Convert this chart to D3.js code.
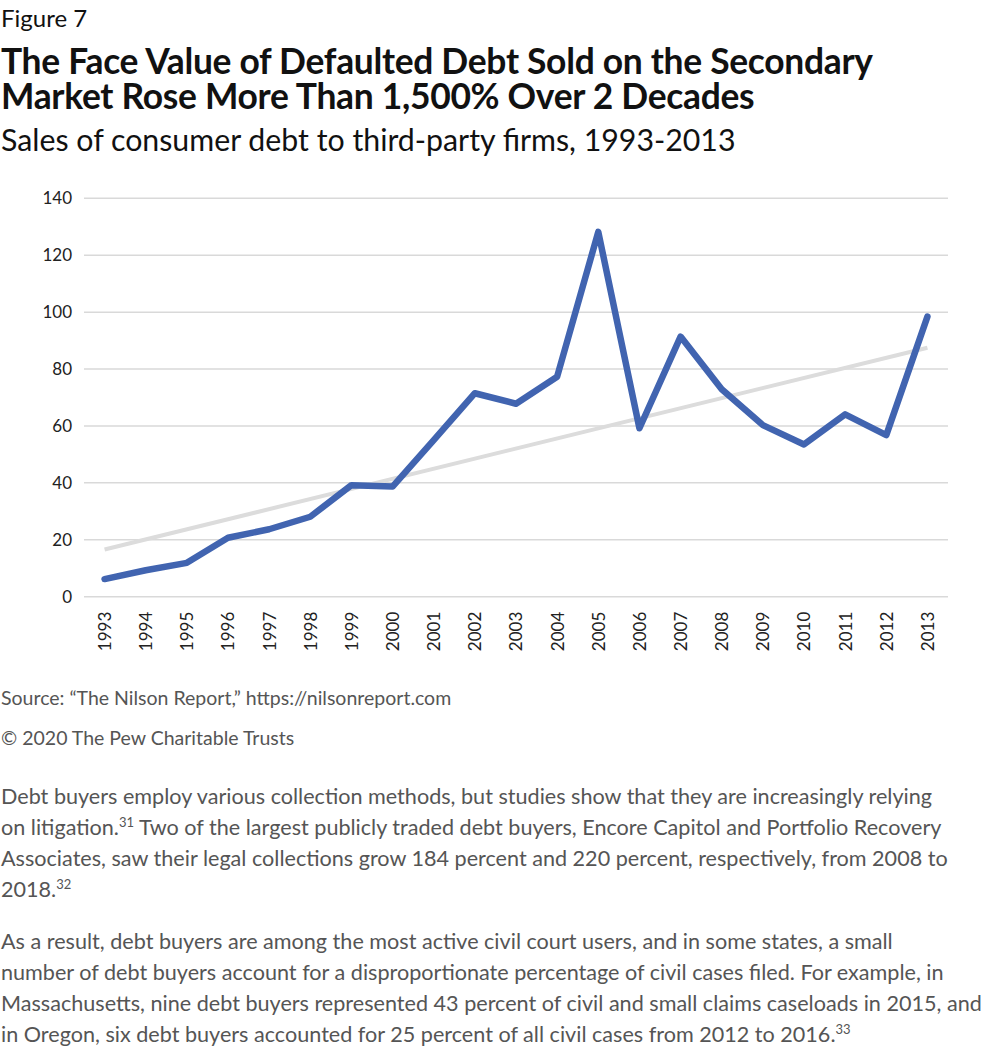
<!DOCTYPE html>
<html>
<head>
<meta charset="utf-8">
<script src="https://cdn.jsdelivr.net/npm/d3@7"></script>
<style>
  html, body { margin: 0; padding: 0; background: #fff; }
  svg { display: block; }
</style>
</head>
<body>
<script>
const years = ["1993","1994","1995","1996","1997","1998","1999","2000","2001","2002","2003","2004","2005","2006","2007","2008","2009","2010","2011","2012","2013"];
const salesValues = [6.2, 9.3, 11.9, 20.7, 23.7, 28.1, 39.2, 38.7, 55, 71.5, 67.8, 77.3, 128.2, 59.2, 91.4, 72.9, 60.3, 53.5, 64.1, 56.8, 98.4];
const trendYears = ["1993", "2013"];
const trendValues = [16.6, 87.5];
const yTicks = [0, 20, 40, 60, 80, 100, 120, 140];

const figureLabel = "Figure 7";
const titleLines = ["The Face Value of Defaulted Debt Sold on the Secondary", "Market Rose More Than 1,500% Over 2 Decades"];
const subtitle = "Sales of consumer debt to third-party firms, 1993-2013";
const sourceText = "Source: \u201cThe Nilson Report,\u201d https://nilsonreport.com";
const copyrightText = "\u00a9 2020 The Pew Charitable Trusts";
const para1 = [
  ["Debt buyers employ various collection methods, but studies show that they are increasingly relying"],
  ["on litigation.", "31", " Two of the largest publicly traded debt buyers, Encore Capitol and Portfolio Recovery"],
  ["Associates, saw their legal collections grow 184 percent and 220 percent, respectively, from 2008 to"],
  ["2018.", "32"]
];
const para2 = [
  ["As a result, debt buyers are among the most active civil court users, and in some states, a small"],
  ["number of debt buyers account for a disproportionate percentage of civil cases filed. For example, in"],
  ["Massachusetts, nine debt buyers represented 43 percent of civil and small claims caseloads in 2015, and"],
  ["in Oregon, six debt buyers accounted for 25 percent of all civil cases from 2012 to 2016.", "33"]
];

const W = 990, H = 1054;
const svg = d3.select("body").append("svg").attr("width", W).attr("height", H);
const font = "Lato, 'Open Sans', sans-serif";

svg.append("text").attr("x", 1).attr("y", 27).attr("font-family", font).attr("font-size", 24).attr("fill", "#111").text(figureLabel);
svg.selectAll(".title").data(titleLines).join("text").attr("class", "title")
  .attr("x", 1).attr("y", (d, i) => 74 + i * 35)
  .attr("font-family", font).attr("font-weight", 700).attr("font-size", 35.4).attr("fill", "#111")
  .attr("letter-spacing", "-0.3").text(d => d);
svg.append("text").attr("x", 1).attr("y", 151).attr("font-family", font).attr("font-size", 30.3).attr("fill", "#111").text(subtitle);

const plotLeft = 84, plotRight = 948, plotTop = 198.3, plotBottom = 596.7;
const x = d3.scalePoint().domain(years).range([plotLeft, plotRight]).padding(0.5);
const y = d3.scaleLinear().domain([0, 140]).range([plotBottom, plotTop]);

const g = svg.append("g");
g.selectAll(".grid").data(yTicks).join("line").attr("class", "grid")
  .attr("x1", plotLeft).attr("x2", plotRight).attr("y1", d => y(d)).attr("y2", d => y(d))
  .attr("stroke", "#d9d9d9").attr("stroke-width", 1.5);

const yAxis = g.append("g").attr("transform", `translate(${plotLeft},0)`)
  .call(d3.axisLeft(y).tickValues(yTicks).tickSize(0).tickPadding(12));
yAxis.select(".domain").remove();
yAxis.selectAll("text").attr("font-family", font).attr("font-size", 17).attr("fill", "#222");

const xAxis = g.append("g").attr("transform", `translate(0,${plotBottom})`)
  .call(d3.axisBottom(x).tickSize(0));
xAxis.select(".domain").remove();
xAxis.selectAll("text")
  .attr("font-family", font).attr("font-size", 17).attr("fill", "#222")
  .attr("transform", "rotate(-90)").attr("text-anchor", "end")
  .attr("x", -15).attr("y", 0).attr("dy", "0.35em");

const trendData = trendYears.map((d, i) => ({ year: d, v: trendValues[i] }));
g.append("path").datum(trendData)
  .attr("d", d3.line().x(d => x(d.year)).y(d => y(d.v)))
  .attr("fill", "none").attr("stroke", "#dcdcdc").attr("stroke-width", 4);

const lineData = years.map((d, i) => ({ year: d, v: salesValues[i] }));
g.append("path").datum(lineData)
  .attr("d", d3.line().x(d => x(d.year)).y(d => y(d.v)))
  .attr("fill", "none").attr("stroke", "#4164b0").attr("stroke-width", 6.5)
  .attr("stroke-linejoin", "round").attr("stroke-linecap", "round");

svg.append("text").attr("x", 1).attr("y", 705).attr("font-family", font).attr("font-size", 19.5).attr("fill", "#555").text(sourceText);
svg.append("text").attr("x", 1).attr("y", 745).attr("font-family", font).attr("font-size", 19.5).attr("fill", "#555").text(copyrightText);

function paragraph(lines, y0) {
  lines.forEach((parts, i) => {
    const t = svg.append("text").attr("x", 1).attr("y", y0 + i * 31)
      .attr("font-family", font).attr("font-size", 21.6).attr("fill", "#555");
    parts.forEach((p, j) => {
      if (j === 1) {
        t.append("tspan").attr("font-size", 13).attr("dy", -8).text(p);
      } else if (j === 2) {
        t.append("tspan").attr("dy", 8).text(p);
      } else {
        t.append("tspan").text(p);
      }
    });
  });
}
paragraph(para1, 804);
paragraph(para2, 949);
</script>
</body>
</html>
